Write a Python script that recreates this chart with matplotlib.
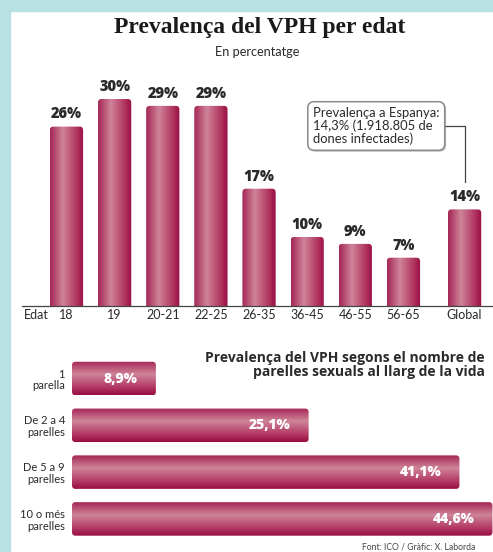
import numpy as np
import matplotlib.pyplot as plt
from matplotlib.patches import FancyBboxPatch, Rectangle
from matplotlib.colors import to_rgb
import matplotlib.patheffects as pe

# prevalence by age group (%)
edats = ["18", "19", "20-21", "22-25", "26-35", "36-45", "46-55", "56-65", "Global"]
prevalenca = [26, 30, 29, 29, 17, 10, 9, 7, 14]

# prevalence by number of lifetime sexual partners (%)
parelles = ["1\nparella", "De 2 a 4\nparelles", "De 5 a 9\nparelles", "10 o més\nparelles"]
prev_parelles = [8.9, 25.1, 41.1, 44.6]

W, H = 493, 552
SANS = "Lato"
BOLD = "Open Sans"
TXT = "#2a2a2a"
CYAN = "#B9E0E3"


def fx(x):
    return x / W


def fy(y):
    return 1 - y / H


def gradient(n=64):
    # dark crimson edges with a lighter band a bit off-centre
    stops = [(0.0, "#A52757"), (0.38, "#CF8499"), (0.8, "#B0335F"), (1.0, "#990E44")]
    t = np.linspace(0, 1, n)
    pts = [s[0] for s in stops]
    cols = np.array([to_rgb(s[1]) for s in stops])
    return np.stack([np.interp(t, pts, cols[:, k]) for k in range(3)], axis=-1)


def units_per_px(ax):
    bb = ax.get_window_extent()
    x0, x1 = ax.get_xlim()
    y0, y1 = ax.get_ylim()
    return abs(x1 - x0) / bb.width, abs(y1 - y0) / bb.height


def shade_bars(ax, bars, vertical, radius=3.5):
    ux, uy = units_per_px(ax)
    g = gradient()
    for b in bars:
        b.set_visible(False)
        x, y, w, h = b.get_x(), b.get_y(), b.get_width(), b.get_height()
        if vertical:
            img = g[np.newaxis, :, :]
            # push the bottom below the baseline so only the top is rounded
            y, h = y - 2, h + 2
        else:
            img = g[:, np.newaxis, :]
        patch = FancyBboxPatch((x, y), w, h,
                               boxstyle=f"round,pad=0,rounding_size={radius * ux}",
                               mutation_aspect=uy / ux,
                               facecolor="none", edgecolor="none")
        ax.add_patch(patch)
        y0, y1 = (y, y + h) if vertical else (y + h, y)
        im = ax.imshow(img, extent=[x, x + w, y0, y1], aspect="auto",
                       interpolation="bicubic", zorder=2)
        im.set_clip_path(patch)


fig = plt.figure(figsize=(W / 100, H / 100), dpi=100)
fig.patch.set_facecolor("white")
fig.add_artist(Rectangle((0, fy(11)), 1, 11 / H, transform=fig.transFigure,
                         color=CYAN, zorder=0))
fig.add_artist(Rectangle((0, 0), 10 / W, 1, transform=fig.transFigure,
                         color=CYAN, zorder=0))

fig.text(fx(260), fy(28), "Prevalença del VPH per edat", ha="center", va="center",
         fontsize=17, fontweight="bold", family="Liberation Serif", color="#1a1a1a")
fig.text(fx(257), fy(52), "En percentatge", ha="center", va="center",
         fontsize=9.2, family=SANS, color=TXT)

# --- vertical bars: age groups ---
ax1 = fig.add_axes([fx(22), fy(306), (493 - 22) / W, (306 - 60) / H])
pos = list(range(len(edats) - 1)) + [len(edats) - 1 + 0.27]
ax1.set_xlim(-0.924, 8.86)
ax1.set_ylim(0, 35.65)
bars1 = ax1.bar(pos, prevalenca, width=0.69)
shade_bars(ax1, bars1, vertical=True)

for p, v in zip(pos, prevalenca):
    ax1.annotate(f"{v}%", (p, v), xytext=(0, 3), textcoords="offset points",
                 ha="center", va="bottom", fontsize=10.5, fontweight="heavy",
                 family=BOLD, color=TXT)

ax1.set_xticks(pos)
ax1.set_xticklabels(edats, fontsize=9, family=SANS, color=TXT)
ax1.tick_params(axis="x", length=0, pad=2.5)
ax1.set_yticks([])
for s in ["top", "left", "right"]:
    ax1.spines[s].set_visible(False)
ax1.spines["bottom"].set_color("#444444")
ax1.spines["bottom"].set_linewidth(0.9)
ax1.patch.set_alpha(0)
fig.text(fx(24), fy(315), "Edat", ha="left", va="center",
         fontsize=9, family=SANS, color=TXT)

ann = ax1.annotate("Prevalença a Espanya:\n14,3% (1.918.805 de\ndones infectades)",
                   xy=(pos[-1], prevalenca[-1] + 4), xycoords="data",
                   xytext=(fx(313), fy(126)), textcoords="figure fraction",
                   ha="left", va="center", fontsize=9.4, family=SANS, color=TXT,
                   linespacing=1.05,
                   bbox=dict(boxstyle="round,pad=0.4,rounding_size=0.5",
                             facecolor="white", edgecolor="#8a8a8a", lw=1.1),
                   arrowprops=dict(arrowstyle="-", color="#444444", lw=0.9,
                                   connectionstyle="angle,angleA=0,angleB=90,rad=0",
                                   relpos=(1, 0.5), shrinkA=0, shrinkB=0))
ann.get_bbox_patch().set_path_effects([pe.SimplePatchShadow(offset=(1, -1), alpha=0.35),
                                       pe.Normal()])

# --- horizontal bars: number of partners ---
ax2 = fig.add_axes([fx(72), 0, (493 - 72) / W, (552 - 340) / H])
ax2.set_xlim(0, 44.66)
ax2.set_ylim(3.707, -0.823)
ypos = np.arange(len(parelles))
bars2 = ax2.barh(ypos, prev_parelles, height=0.716)
shade_bars(ax2, bars2, vertical=False)

for yp, v in zip(ypos, prev_parelles):
    ax2.annotate(f"{v:.1f}%".replace(".", ","), (v, yp), xytext=(-13, 0),
                 textcoords="offset points", ha="right", va="center",
                 fontsize=10, fontweight="heavy", family=BOLD, color="white", zorder=3)

ax2.set_yticks(ypos)
ax2.set_yticklabels(parelles, fontsize=8, family=SANS, color=TXT,
                    linespacing=1.1)
ax2.tick_params(axis="y", length=0, pad=5)
ax2.set_xticks([])
for s in ax2.spines.values():
    s.set_visible(False)
ax2.patch.set_alpha(0)

fig.text(fx(485), fy(365),
         "Prevalença del VPH segons el nombre de\nparelles sexuals al llarg de la vida",
         ha="right", va="center", fontsize=10, fontweight="bold", family=BOLD,
         color=TXT, linespacing=1.0)
fig.text(fx(475), fy(547), "Font: ICO / Gràfic: X. Laborda", ha="right", va="center",
         fontsize=6.2, family=SANS, color="#444444")

fig.savefig("out.png", dpi=100)
